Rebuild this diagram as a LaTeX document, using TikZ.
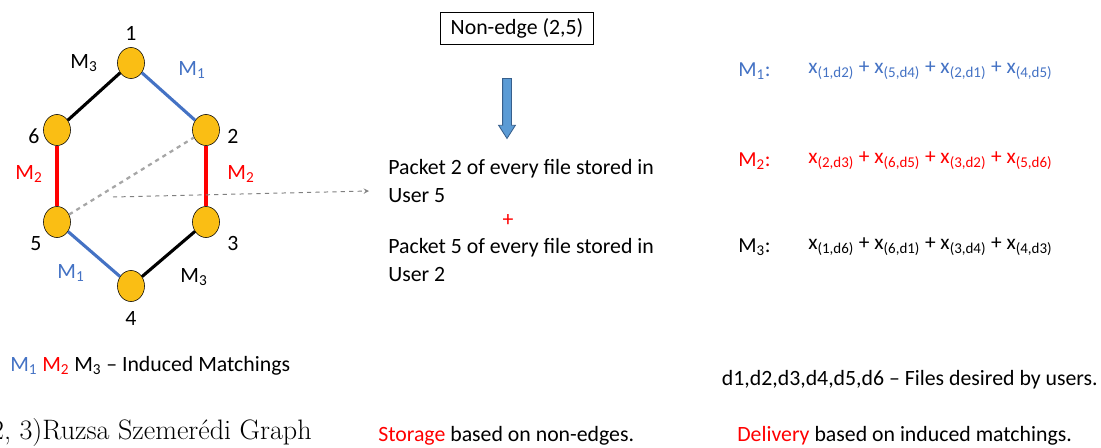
\documentclass[tikz,border=0pt]{standalone}
\usepackage{fontspec}
\newfontfamily\calib[Ligatures=TeX]{Carlito}
\usetikzlibrary{shapes.geometric,shapes.arrows}
\definecolor{mblue}{RGB}{68,114,196}
\definecolor{mred}{RGB}{255,0,0}
\definecolor{ufill}{RGB}{250,190,20}
\definecolor{afill}{RGB}{91,155,213}
\definecolor{aline}{RGB}{55,95,140}
\begin{document}
\begin{tikzpicture}[x=0.025cm,y=-0.025cm]
\tikzstyle{txt} = [font=\calib\fontsize{15.5}{19.5}\selectfont,inner sep=0pt];
\tikzstyle{eq} = [font=\calib\fontsize{15.2}{19}\selectfont,inner sep=0pt];
\tikzstyle{user}=[ellipse,draw,fill=ufill,minimum width=0.675cm,minimum height=0.775cm,inner sep=0pt];
\tikzstyle{m1}=[draw=mblue,line width=2.2pt];
\tikzstyle{m2}=[draw=mred,line width=2.2pt];
\tikzstyle{m3}=[draw=black,line width=2.2pt];
\useasboundingbox (0,0) rectangle (1101,448);

% graph
\node [user] (v1) at (131,63) {};
\node [user] (v2) at (206,130) {};
\node [user] (v3) at (206,222) {};
\node [user] (v4) at (131,286) {};
\node [user] (v5) at (57,222) {};
\node [user] (v6) at (57,130) {};

\node [txt] (l1) at (131,33) {1};
\node [txt] (l2) at (233,136) {2};
\node [txt] (l3) at (233,243) {3};
\node [txt] (l4) at (131,318) {4};
\node [txt] (l5) at (36,244) {5};
\node [txt] (l6) at (34,136) {6};

\draw [m1] (v1) -- (v2);
\draw [m2] (v2) -- (v3);
\draw [m3] (v3) -- (v4);
\draw [m1] (v4) -- (v5);
\draw [m2] (v5) -- (v6);
\draw [m3] (v6) -- (v1);
\draw [gray!70,line width=1.6pt,dashed] (v5) -- (v2);

\node [txt] (e61) at (84,63) {M\textsubscript{3}};
\node [txt,mblue] (e12) at (192,70) {M\textsubscript{1}};
\node [txt,mred] (e56) at (29,174) {M\textsubscript{2}};
\node [txt,mred] (e23) at (241,174) {M\textsubscript{2}};
\node [txt,mblue] (e45) at (71,273) {M\textsubscript{1}};
\node [txt] (e34) at (194,277) {M\textsubscript{3}};

% storage
\node [txt,draw,inner xsep=0.25cm,inner ysep=0.15cm] (ne) at (517,28) {Non-edge (2,5)};
\node [single arrow,shape border rotate=270,draw=aline,fill=afill,line width=0.6pt,
  minimum height=1.5cm,minimum width=0.38cm,inner sep=0.1cm,
  single arrow head extend=0.1cm,single arrow tip angle=65] (down) at (507,105) {};
\node [txt,anchor=west,align=left] (p25) at (388,181) {Packet 2 of every file stored in\\User 5};
\node [txt,mred] (plus) at (508,221) {+};
\node [txt,anchor=west,align=left] (p52) at (388,260) {Packet 5 of every file stored in\\User 2};
\coordinate (from) at (113,197);
\coordinate (tip) at (369,191);
\draw [gray,line width=0.7pt,dashed,-stealth] (from) -- (tip);

% delivery
\node [eq,mblue,anchor=west] (d1) at (738,71) {M\textsubscript{1}:};
\node [eq,mblue,anchor=west] (x1) at (808,71) {x\textsubscript{(1,d2)} + x\textsubscript{(5,d4)} + x\textsubscript{(2,d1)} + x\textsubscript{(4,d5)}};
\node [eq,mred,anchor=west] (d2) at (738,161) {M\textsubscript{2}:};
\node [eq,mred,anchor=west] (x2) at (808,161) {x\textsubscript{(2,d3)} + x\textsubscript{(6,d5)} + x\textsubscript{(3,d2)} + x\textsubscript{(5,d6)}};
\node [eq,anchor=west] (d3) at (738,247) {M\textsubscript{3}:};
\node [eq,anchor=west] (x3) at (808,247) {x\textsubscript{(1,d6)} + x\textsubscript{(6,d1)} + x\textsubscript{(3,d4)} + x\textsubscript{(4,d3)}};

% captions
\node [txt,anchor=west] (leg) at (10,366) {\textcolor{mblue}{M\textsubscript{1}} \textcolor{mred}{M\textsubscript{2}} M\textsubscript{3} \textendash{} Induced Matchings};
\node [txt,anchor=east] (files) at (1098,380) {d1,d2,d3,d4,d5,d6 \textendash{} Files desired by users.};
\node [anchor=east,inner sep=0pt,font=\fontsize{20}{24}\selectfont] (rsg) at (312,432) {(2, 3)Ruzsa Szemer\'edi Graph};
\node [txt,anchor=west] (sto) at (378,436) {\textcolor{mred}{Storage} based on non-edges.};
\node [txt,anchor=west] (del) at (737,436) {\textcolor{mred}{Delivery} based on induced matchings.};
\end{tikzpicture}
\end{document}
